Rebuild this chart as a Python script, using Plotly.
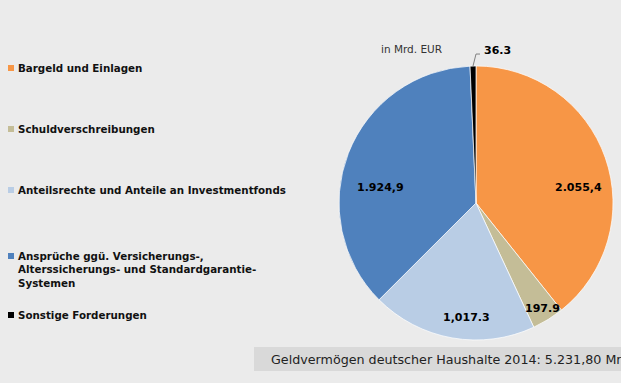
import math
import plotly.graph_objects as go

categories = [
    "Bargeld und Einlagen",
    "Schuldverschreibungen",
    "Anteilsrechte und Anteile an Investmentfonds",
    "Ansprüche ggü. Versicherungs-,<br>Alterssicherungs- und Standardgarantie-<br>Systemen",
    "Sonstige Forderungen",
]
values = [2055.4, 197.9, 1017.3, 1924.9, 36.3]
value_labels = ["2.055,4", "197.9", "1,017.3", "1.924,9", "36.3"]
colors = ["#f79646", "#c4bd97", "#b9cde5", "#4f81bd", "#000000"]
title_text = "Geldvermögen deutscher Haushalte 2014: 5.231,80 Mrd. EUR"
unit_text = "in Mrd. EUR"

# ---- layout / styling ----
W, H = 621, 383
BG = "#ebebeb"
cx, cy, r = 476, 203, 137          # pie centre / radius in pixels
label_nudge_deg = [10.5, -0.5, -5.5, -11.8]   # angular nudge from slice bisector
label_radius_px = [104, 125, 115, 97]

fig = go.Figure()
fig.add_trace(go.Pie(
    values=values,
    labels=categories,
    text=value_labels,
    textinfo="none",
    sort=False,
    direction="clockwise",
    rotation=0,
    marker=dict(colors=colors, line=dict(color="rgba(255,255,255,0.7)", width=1)),
    domain=dict(x=[(cx - r) / W, (cx + r) / W], y=[(H - cy - r) / H, (H - cy + r) / H]),
    showlegend=False,
    hoverinfo="label+value",
))

def px(x, y):
    return x / W, 1 - y / H

shapes = []
annotations = []

# value labels placed around slice bisectors
total = sum(values)
cum = 0.0
mids = []
for v in values:
    mids.append((cum + v / 2) / total * 360.0)
    cum += v

lab_font = dict(family="DejaVu Sans", size=11, color="#000000", weight="bold")
for i in range(4):
    a = math.radians(mids[i] + label_nudge_deg[i])
    x = cx + label_radius_px[i] * math.sin(a)
    y = cy - label_radius_px[i] * math.cos(a)
    xx, yy = px(x, y)
    annotations.append(dict(text=value_labels[i], xref="paper", yref="paper", x=xx, y=yy,
                            xanchor="center", yanchor="middle", showarrow=False, font=lab_font))

# outside label with leader line for the small slice
a = math.radians(mids[4])
ex, ey = cx + r * math.sin(a), cy - r * math.cos(a)
kx, ky = ex + 3, ey - 12
hx, hy = kx + 4, ky
shapes.append(dict(type="path", xref="paper", yref="paper",
                   path="M {} {} L {} {} L {} {}".format(*px(ex, ey), *px(kx, ky), *px(hx, hy)),
                   line=dict(color="#808080", width=1)))
annotations.append(dict(text=value_labels[4], xref="paper", yref="paper",
                        x=px(hx + 2, 0)[0], y=px(0, hy - 4)[1],
                        xanchor="left", yanchor="middle", showarrow=False, font=lab_font))

# custom legend
legend_y = [68, 129, 190, 256, 315]
for lab, col, y in zip(categories, colors, legend_y):
    x0, y0 = px(8, y + 3)
    x1, y1 = px(14, y - 3)
    shapes.append(dict(type="rect", xref="paper", yref="paper", x0=x0, x1=x1, y0=y0, y1=y1,
                       fillcolor=col, line=dict(width=0)))
    annotations.append(dict(
        text=lab, xref="paper", yref="paper", x=15.5 / W, y=1 - (y - 8.5) / H,
        xanchor="left", yanchor="top", align="left", showarrow=False,
        font=dict(family="DejaVu Sans", size=10.3, color="#111111", weight="bold"),
    ))

# title box
shapes.append(dict(type="rect", xref="paper", yref="paper",
                   x0=254 / W, x1=1.01, y0=1 - 371 / H, y1=1 - 347 / H,
                   fillcolor="#d9d9d9", line=dict(width=0)))
annotations.append(dict(text=title_text, xref="paper", yref="paper",
                        x=269 / W, y=1 - 359 / H, xanchor="left", yanchor="middle",
                        showarrow=False,
                        font=dict(family="DejaVu Sans", size=12.7, color="#222222")))
annotations.append(dict(text=unit_text, xref="paper", yref="paper",
                        x=379 / W, y=1 - 49 / H, xanchor="left", yanchor="middle",
                        showarrow=False,
                        font=dict(family="DejaVu Sans", size=10.5, color="#333333")))

fig.update_layout(
    width=W, height=H,
    margin=dict(l=0, r=0, t=0, b=0),
    paper_bgcolor=BG, plot_bgcolor=BG,
    shapes=shapes, annotations=annotations,
)
fig.write_html("out.html", config={"displayModeBar": False},
               post_script="document.body.style.margin='0';")
